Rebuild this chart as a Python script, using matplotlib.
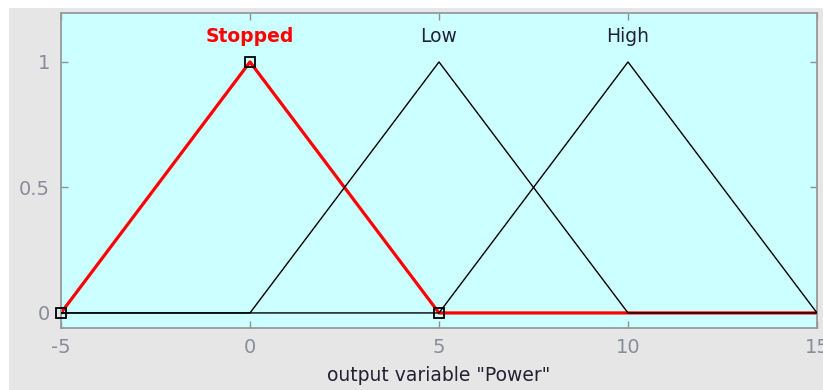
import matplotlib.pyplot as plt
from matplotlib.patches import Rectangle

plt.rcParams["axes.unicode_minus"] = False

# membership functions (trimf) of the output variable "Power"
names = ["Stopped", "Low", "High"]
params = [[-5, 0, 5], [0, 5, 10], [5, 10, 15]]
x_range = [-5, 15]
x_ticks = [-5, 0, 5, 10, 15]
y_ticks = [0, 0.5, 1]
y_tick_labels = ["0", "0.5", "1"]
selected = "Stopped"

fig = plt.figure(figsize=(8.23, 3.9), dpi=100, facecolor="white")
# szare tlo okna z bialym paskiem u gory i z lewej
fig.patches.append(Rectangle((9 / 823, 0), 1, 1 - 8 / 390, transform=fig.transFigure,
                             facecolor="#e6e6e6", edgecolor="none", zorder=-10))

ax = fig.add_axes([61 / 823, 1 - 328 / 390, (817 - 61) / 823, (328 - 13) / 390])
ax.set_facecolor("#ccffff")

for name, p in zip(names, params):
    xs = [x_range[0], p[0], p[1], p[2], x_range[1]]
    ys = [0, 0, 1, 0, 0]
    if name == selected:
        ax.plot(xs, ys, color="red", lw=2.3, zorder=2)
        ax.plot(p, [0, 1, 0], ls="none", marker="s", ms=7.5, mfc="none", mec="black",
                mew=1.3, zorder=4, clip_on=False)
        ax.text(p[1], 1.1, name, color="red", fontsize=13.5, fontweight="bold",
                ha="center", va="center")
    else:
        ax.plot(xs, ys, color="black", lw=1.0, zorder=3)
        ax.text(p[1], 1.1, name, color="#222233", fontsize=13.5, ha="center", va="center")

ax.set_xlim(x_range)
ax.set_ylim(-0.06, 1.195)
ax.set_xticks(x_ticks)
ax.set_yticks(y_ticks)
ax.set_yticklabels(y_tick_labels)
ax.tick_params(direction="in", length=5, width=1, color="#909090", labelcolor="#8a8c9a",
               labelsize=14, top=True, right=True, pad=8)
ax.tick_params(axis="x", pad=7)
for s in ax.spines.values():
    s.set_color("#999999")
    s.set_linewidth(1.3)

ax.set_xlabel('output variable "Power"', fontsize=13.5, color="#222233", labelpad=7)

plt.savefig("out.png", dpi=100, facecolor=fig.get_facecolor())
